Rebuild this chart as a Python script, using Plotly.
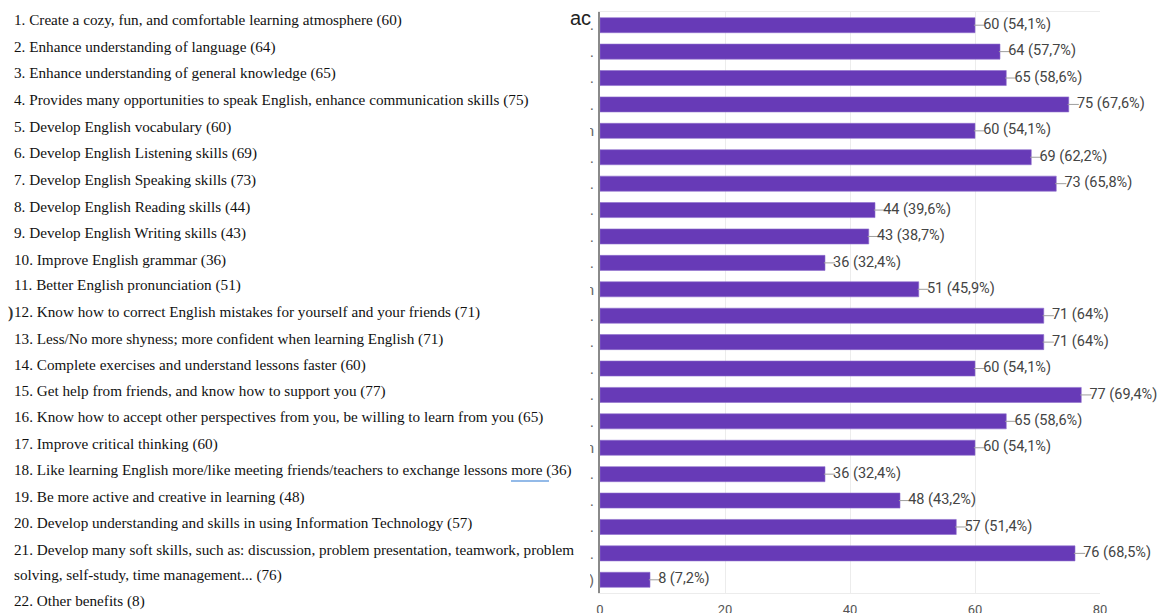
import plotly.graph_objects as go

W, H = 1164, 613
ML, MR, MT, MB = 600, 64, 12, 20

items = [
    "1. Create a cozy, fun, and comfortable learning atmosphere (60)",
    "2. Enhance understanding of language (64)",
    "3. Enhance understanding of general knowledge (65)",
    "4. Provides many opportunities to speak English, enhance communication skills (75)",
    "5. Develop English vocabulary (60)",
    "6. Develop English Listening skills (69)",
    "7. Develop English Speaking skills (73)",
    "8. Develop English Reading skills (44)",
    "9. Develop English Writing skills (43)",
    "10. Improve English grammar (36)",
    "11. Better English pronunciation (51)",
    "12. Know how to correct English mistakes for yourself and your friends (71)",
    "13. Less/No more shyness; more confident when learning English (71)",
    "14. Complete exercises and understand lessons faster (60)",
    "15. Get help from friends, and know how to support you (77)",
    "16. Know how to accept other perspectives from you, be willing to learn from you (65)",
    "17. Improve critical thinking (60)",
    "18. Like learning English more/like meeting friends/teachers to exchange lessons more (36)",
    "19. Be more active and creative in learning (48)",
    "20. Develop understanding and skills in using Information Technology (57)",
    "21. Develop many soft skills, such as: discussion, problem presentation, teamwork, problem",
    "solving, self-study, time management... (76)",
    "22. Other benefits (8)",
]

categories = [f"c{i+1}" for i in range(22)]
values = [60, 64, 65, 75, 60, 69, 73, 44, 43, 36, 51, 71, 71, 60, 77, 65, 60, 36, 48, 57, 76, 8]
percents = ["54,1%", "57,7%", "58,6%", "67,6%", "54,1%", "62,2%", "65,8%", "39,6%", "38,7%",
            "32,4%", "45,9%", "64%", "64%", "54,1%", "69,4%", "58,6%", "54,1%", "32,4%",
            "43,2%", "51,4%", "68,5%", "7,2%"]
tick_text = [".", ".", ".", ".", "n", ".", ".", ".", ".", ".", "n", ".", ".", ".", ".", ".",
             "n", ".", ".", ".", ".", ")"]
x_ticks = [0, 20, 40, 60, 80]

labels = [f"{v} ({p})" for v, p in zip(values, percents)]

fig = go.Figure()
fig.add_trace(go.Bar(
    y=categories, x=values, orientation="h",
    marker=dict(color="#673ab7", line=dict(color="#8e6fcc", width=0.6)),
    hoverinfo="skip", showlegend=False,
))

# leader lines (short horizontal tick marks just past each bar end)
fig.add_trace(go.Scatter(
    x=[v + 0.72 for v in values], y=categories, mode="markers",
    marker=dict(symbol="line-ew", size=8, line=dict(color="#9e9e9e", width=1)),
    hoverinfo="skip", showlegend=False, cliponaxis=False,
))
fig.add_trace(go.Scatter(
    x=[v + 1.3 for v in values], y=categories, mode="text", text=labels,
    textposition="middle right",
    textfont=dict(family="Roboto", size=14.5, color="#444444"),
    hoverinfo="skip", showlegend=False, cliponaxis=False,
))

pw = W - ML - MR
ph = H - MT - MB


def px(x):
    return (x - ML) / pw


def py(y):
    return (H - MB - y) / ph


annotations = []
line_y = [20, 47, 73, 100, 127, 153, 180, 207, 233, 260, 285, 312, 339, 365, 391, 417, 444,
          470, 497, 523, 549, 575, 601]
for t, yy in zip(items, line_y):
    annotations.append(dict(
        text=t, xref="paper", yref="paper", x=px(12), y=py(yy), xanchor="left", yanchor="middle",
        showarrow=False, font=dict(family="Liberation Serif, Times New Roman, serif", size=15.2,
                                   color="#111111"),
    ))
annotations.append(dict(text="ac", xref="paper", yref="paper", x=px(593), y=py(18),
                        xanchor="right", yanchor="middle", showarrow=False,
                        font=dict(family="Liberation Sans, Arial", size=20, color="#222222")))
annotations.append(dict(text="<b>)</b>", xref="paper", yref="paper", x=px(6), y=py(313),
                        xanchor="left", yanchor="middle", showarrow=False,
                        font=dict(family="Liberation Serif", size=16, color="#333333")))

shapes = [
    # white cover that trims the y tick labels
    dict(type="rect", xref="paper", yref="paper", x0=px(0), x1=px(590), y0=py(40), y1=py(H),
         fillcolor="white", line=dict(width=0), layer="above"),
    # spell-check underline
    dict(type="line", xref="paper", yref="paper", x0=px(511), x1=px(549), y0=py(481), y1=py(481),
         line=dict(color="#6fa3e0", width=1.5), layer="above"),
]

fig.update_layout(
    width=W, height=H,
    margin=dict(l=ML, r=MR, t=MT, b=MB, pad=0, autoexpand=False),
    paper_bgcolor="white", plot_bgcolor="white",
    bargap=0.43,
    annotations=annotations,
    shapes=shapes,
    xaxis=dict(range=[0, 80], tickvals=x_ticks, ticktext=[str(t) for t in x_ticks],
               showgrid=True, gridcolor="#ececec", gridwidth=1, zeroline=False,
               showline=True, linecolor="#ececec", mirror=True, automargin=False,
               ticks="", ticklabelstandoff=4,
               tickfont=dict(family="Roboto", size=13, color="#555555")),
    yaxis=dict(categoryorder="array", categoryarray=categories,
               range=[len(categories) - 0.5, -0.5],
               tickvals=categories, ticktext=tick_text, showgrid=False, zeroline=False,
               showline=True, linecolor="#8a8a8a", linewidth=2, ticks="", automargin=False,
               ticklabelstandoff=1,
               tickfont=dict(family="Liberation Sans", size=15, color="#666666")),
)

fig.write_html("out.html")
